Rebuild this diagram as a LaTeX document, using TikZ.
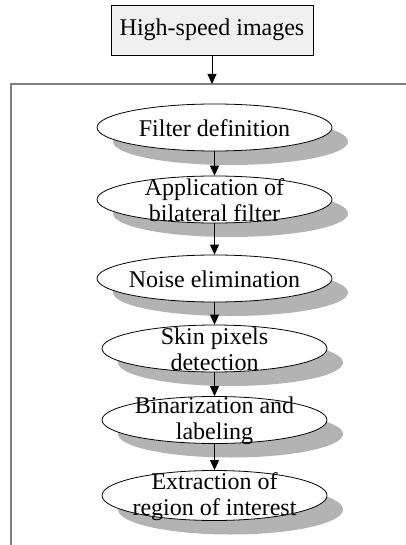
\documentclass[tikz,border=0pt]{standalone}
\usepackage{fontspec}
\setmainfont{Liberation Serif}
\usetikzlibrary{arrows.meta,shapes.geometric}
\definecolor{shadowgray}{HTML}{B3B3B3}
\definecolor{framegray}{HTML}{808080}
\definecolor{boxfill}{HTML}{F0F0F0}
\begin{document}
\begin{tikzpicture}[x=1pt,y=-1pt,
  txt/.style={font=\fontsize{24}{26}\selectfont, align=center, inner sep=0pt},
  ell/.style={ellipse, draw=black, line width=0.8pt, fill=white, inner sep=0pt, minimum height=47pt},
  shd/.style={ellipse, fill=shadowgray, inner sep=0pt, minimum height=47pt},
  arr/.style={-{Triangle[length=10pt,width=9pt]}, line width=0.8pt}]
\useasboundingbox (0,0) rectangle (406,545);
\fill[white] (0,0) rectangle (406,545);
% frame
\draw[framegray, line width=1.5pt] (11,545) -- (11,84) -- (406,84);
\coordinate (frametop) at (212,84);
% top box
\node[draw=black, line width=0.8pt, fill=boxfill, minimum width=202pt, minimum height=50pt, txt] (hs) at (212,30) {High-speed images};
\draw[arr] (hs.south) -- (frametop);
% shadows
\node[shd, minimum width=235pt] (s1) at (230.5,141.5) {};
\node[shd, minimum width=235pt] (s2) at (230.5,213.5) {};
\node[shd, minimum width=235pt] (s3) at (230.5,292.5) {};
\node[shd, minimum width=225pt] (s4) at (230.5,362.5) {};
\node[shd, minimum width=225pt] (s5) at (230.5,434) {};
\node[shd, minimum width=225pt, minimum height=50pt] (s6) at (230.5,509.5) {};
% ellipses
\node[ell, minimum width=235pt] (e1) at (214.5,127.5) {};
\node[ell, minimum width=235pt] (e2) at (214.5,199.5) {};
\node[ell, minimum width=235pt] (e3) at (214.5,278.5) {};
\node[ell, minimum width=225pt] (e4) at (214.5,348.5) {};
\node[ell, minimum width=225pt] (e5) at (214.5,420) {};
\node[ell, minimum width=225pt, minimum height=50pt] (e6) at (214.5,495.5) {};
% arrows
\draw[arr] (e1.south) -- (e2.north);
\draw[arr] (e2.south) -- (e3.north);
\draw[arr] (e3.south) -- (e4.north);
\draw[arr] (e4.south) -- (e5.north);
\draw[arr] (e5.south) -- (e6.north);
% texts
\node[txt] (t1) at ([yshift=-1pt]e1.center) {Filter definition};
\node[txt] (t2) at ([yshift=-1pt]e2.center) {Application of\\bilateral filter};
\node[txt] (t3) at ([yshift=-1pt]e3.center) {Noise elimination};
\node[txt] (t4) at ([yshift=-1pt]e4.center) {Skin pixels\\detection};
\node[txt] (t5) at ([yshift=-1pt]e5.center) {Binarization and\\labeling};
\node[txt] (t6) at ([yshift=-1pt]e6.center) {Extraction of\\region of interest};
\end{tikzpicture}
\end{document}
